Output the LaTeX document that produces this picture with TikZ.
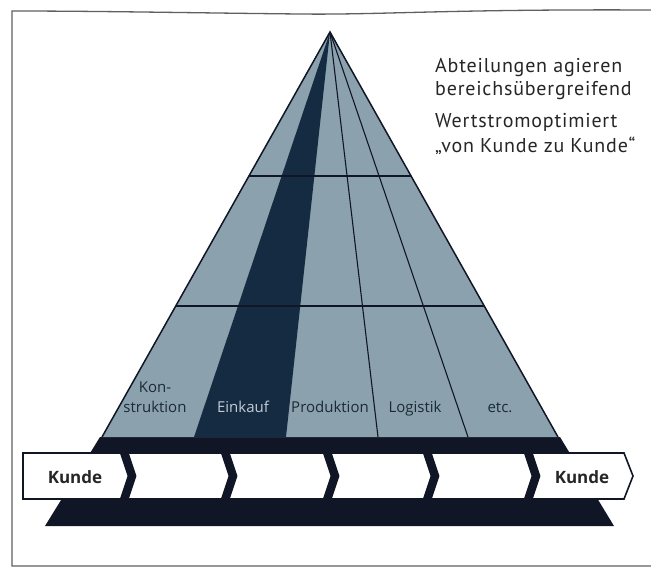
\documentclass[tikz,border=0pt]{standalone}
\usepackage{fontspec}
\setmainfont{Open Sans}
\newfontfamily\dinfont[LetterSpace=4]{PT Sans}
\usetikzlibrary{calc}
\definecolor{pyrlight}{RGB}{139,161,173}
\definecolor{pyrdark}{RGB}{20,43,66}
\definecolor{bandcol}{RGB}{17,22,38}
\definecolor{framecol}{RGB}{95,95,95}
\definecolor{labcol}{RGB}{28,42,55}
\definecolor{lablight}{RGB}{196,204,212}

\begin{document}
\begin{tikzpicture}[x=1pt,y=-1pt,
    grid/.style={draw=bandcol,line width=1.1pt},
    dept/.style={font=\fontsize{15}{20}\selectfont,text=labcol,align=center,anchor=base,inner sep=0pt},
    kunde/.style={font=\bfseries\fontsize{17}{20}\selectfont,text=black!85,anchor=base,inner sep=0pt},
    note/.style={font=\dinfont\fontsize{20}{24}\selectfont,text=black!85,anchor=base west,inner sep=0pt}]
    \useasboundingbox (0,0) rectangle (651,568);
    % frame
    \draw[framecol,line width=1.3pt] (651,10) .. controls (450,9) and (380,15) .. (300,14)
        .. controls (200,13) and (100,11) .. (12,11) -- (12,566) -- (651,566);
    % pyramid
    \coordinate (apex) at (330,32);
    \coordinate (bl) at (102,437);
    \coordinate (br) at (558,437);
    \fill[bandcol] (100,437) -- (560,437) -- (614,526) -- (45,526) -- cycle;
    \fill[pyrlight] (apex) -- (bl) -- (br) -- cycle;
    \fill[pyrdark] (apex) -- (194,437) -- (286,437) -- cycle;
    \foreach \x in {378,468}{
        \draw[grid] (apex) -- (\x,437);
    }
    \foreach \t in {0.3556,0.6765}{
        \draw[grid] ($(apex)!\t!(bl)$) -- ($(apex)!\t!(br)$);
    }
    \draw[grid,line width=1.5pt] (bl) -- (apex) -- (br);
    % process chain
    \fill[white,draw=bandcol,line width=1.6pt] (23,453) -- (624,453) -- (633,476) -- (624,499) -- (23,499) -- cycle;
    \foreach \c in {123,224,326,426,527}{
        \draw[bandcol,line width=8.5pt,line join=miter] (\c,449) -- (\c+9,476) -- (\c,503);
    }
    \node[kunde] (kundeL) at (75,483) {Kunde};
    \node[kunde] (kundeR) at (582,483) {Kunde};
    % departments
    \node[dept] (konst) at (155,412) {Kon-\\struktion};
    \node[dept,text=lablight] (eink) at (243,412) {Einkauf};
    \foreach \x/\lab/\name in {330/Produktion/prod,415/Logistik/log,500/etc./etc}{
        \node[dept] (\name) at (\x,412) {\lab};
    }
    % notes
    \node[note] (abt) at (435,72) {Abteilungen agieren};
    \node[note] (ber) at (435,95) {bereichsübergreifend};
    \node[note] (wert) at (435,127) {Wertstromoptimiert};
    \node[note] (vkzk) at (435,152) {„von Kunde zu Kunde“};
\end{tikzpicture}
\end{document}
